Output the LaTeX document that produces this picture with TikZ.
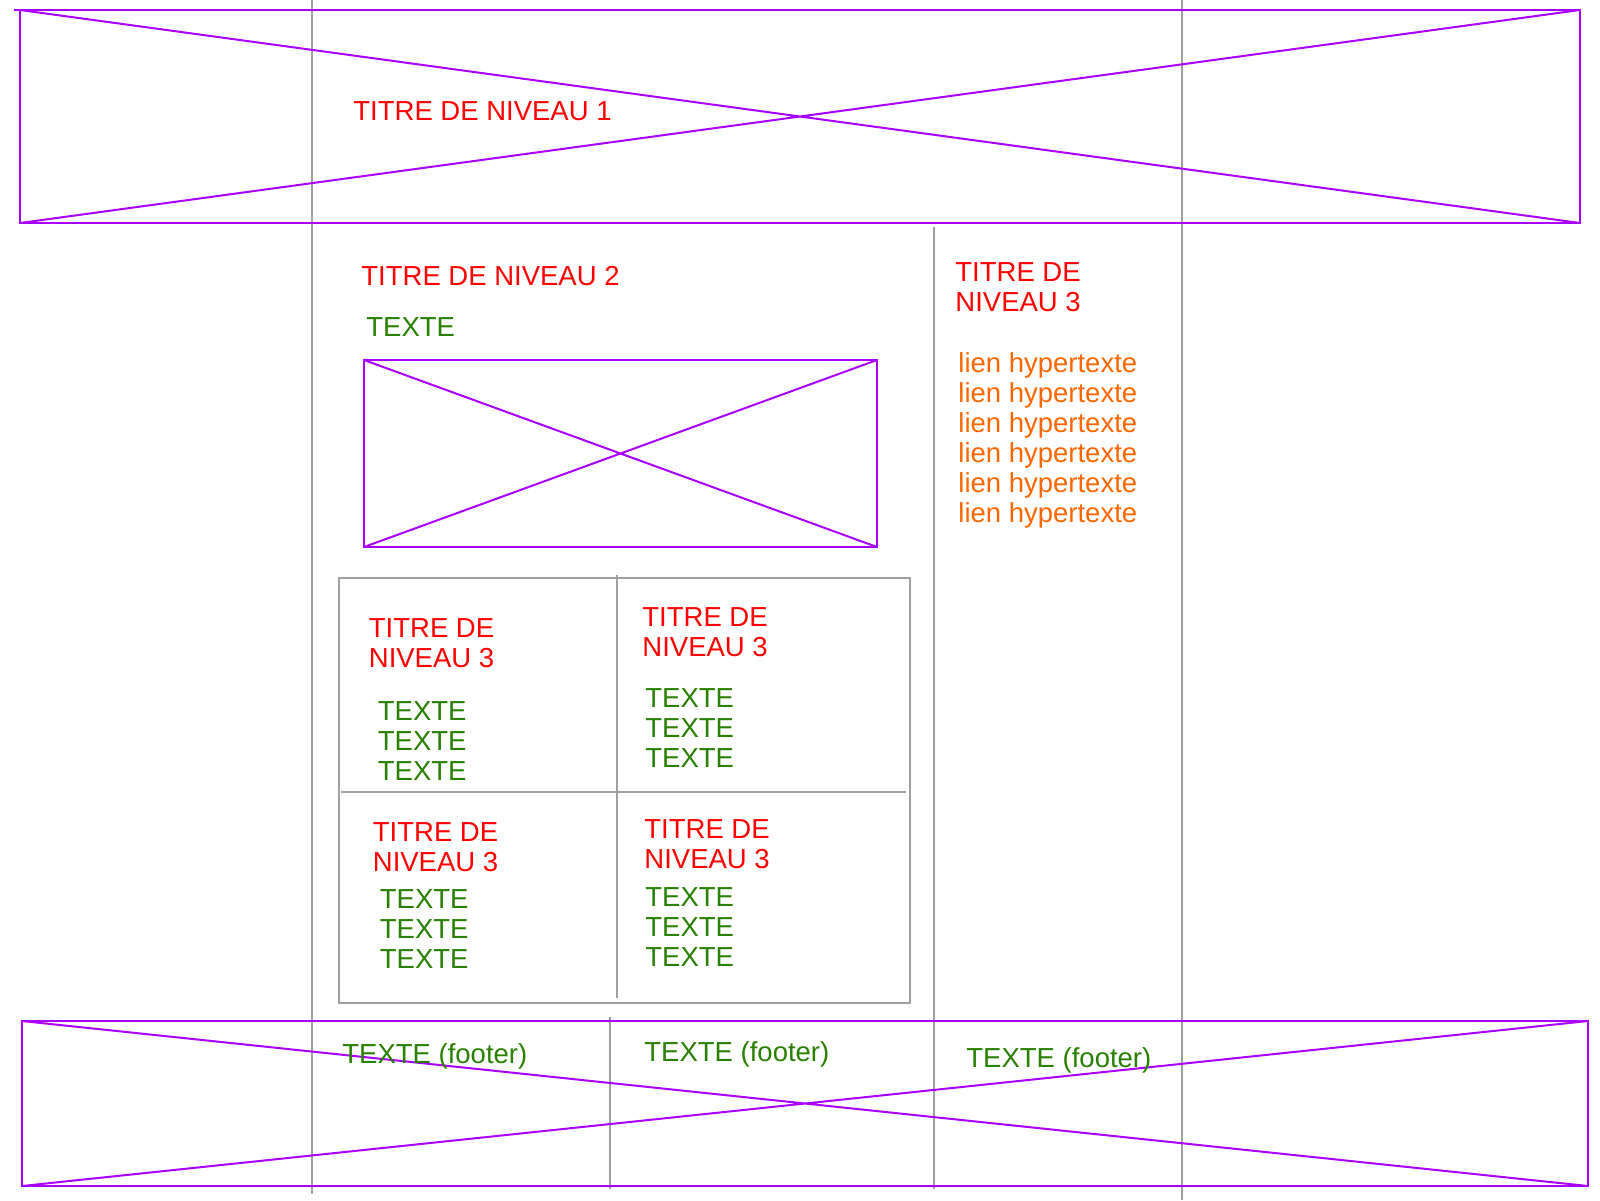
\documentclass[tikz,border=0pt]{standalone}
\usepackage{fontspec}
\setmainfont{Liberation Sans}
\usetikzlibrary{calc}
\definecolor{cadre}{RGB}{170,0,255}
\definecolor{grille}{RGB}{160,160,160}
\definecolor{rouge}{RGB}{255,0,0}
\definecolor{vert}{RGB}{40,128,0}
\definecolor{orange}{RGB}{255,102,0}
\tikzset{
  image/.style={draw=cadre,line width=1pt},
  guide/.style={draw=grille,line width=0.8pt},
  libelle/.style={anchor=base west,inner sep=0pt,align=left,
    font=\fontsize{13.75}{15}\selectfont},
  titre/.style={libelle,text=rouge},
  texte/.style={libelle,text=vert},
  lien/.style={libelle,text=orange}
}

\begin{document}
\begin{tikzpicture}[x=0.5pt,y=-0.5pt]
\useasboundingbox (0,0) rectangle (1600,1200);
% colonnes
\draw[guide] (312,0) -- (312,1194);
\draw[guide] (1182,0) -- (1182,1200);
\draw[guide] (934,227) -- (934,1189);
\draw[guide] (610,1017) -- (610,1189);
% en-tete
\coordinate (H1) at (20,10);
\coordinate (H2) at (1580,223);
\draw[image] (14,10) -- (H2 |- H1);
\draw[image] (H1) rectangle (H2);
\draw[image] (H1) -- (H2) (H1 |- H2) -- (H2 |- H1);
\node[titre] (n1) at (353,120) {TITRE DE NIVEAU 1};
% contenu
\node[titre] (n2) at (361,285.5) {TITRE DE NIVEAU 2};
\node[texte] (t0) at (366,336.5) {TEXTE};
\coordinate (I1) at (364,360);
\coordinate (I2) at (877,547);
\draw[image] (I1) rectangle (I2);
\draw[image] (I1) -- (I2) (I1 |- I2) -- (I2 |- I1);
% grille (ancre = ligne de base de la derniere ligne)
\draw[guide] (339,578) rectangle (910,1003);
\draw[guide] (617,575) -- (617,998);
\draw[guide] (341,792) -- (906,792);
\node[titre] (c1) at (368.5,667.4) {TITRE DE\\NIVEAU 3};
\node[texte] (d1) at (377.5,780) {TEXTE\\TEXTE\\TEXTE};
\node[titre] (c2) at (642,656.2) {TITRE DE\\NIVEAU 3};
\node[texte] (d2) at (645,767) {TEXTE\\TEXTE\\TEXTE};
\node[titre] (c3) at (372.5,871.4) {TITRE DE\\NIVEAU 3};
\node[texte] (d3) at (379.5,968) {TEXTE\\TEXTE\\TEXTE};
\node[titre] (c4) at (644,868.4) {TITRE DE\\NIVEAU 3};
\node[texte] (d4) at (645,966) {TEXTE\\TEXTE\\TEXTE};
% colonne de droite
\node[titre] (n3) at (955,311.5) {TITRE DE\\NIVEAU 3};
\node[lien] (l) at (958,522) {lien hypertexte\\lien hypertexte\\lien hypertexte\\lien hypertexte\\lien hypertexte\\lien hypertexte};
% pied de page
\coordinate (F1) at (22,1021);
\coordinate (F2) at (1588,1186);
\draw[image] (F1) rectangle (F2);
\draw[image] (F1) -- (F2) (F1 |- F2) -- (F2 |- F1);
\node[texte] (p1) at (342,1063) {TEXTE (footer)};
\node[texte] (p2) at (644,1061) {TEXTE (footer)};
\node[texte] (p3) at (966,1067) {TEXTE (footer)};
\end{tikzpicture}
\end{document}
